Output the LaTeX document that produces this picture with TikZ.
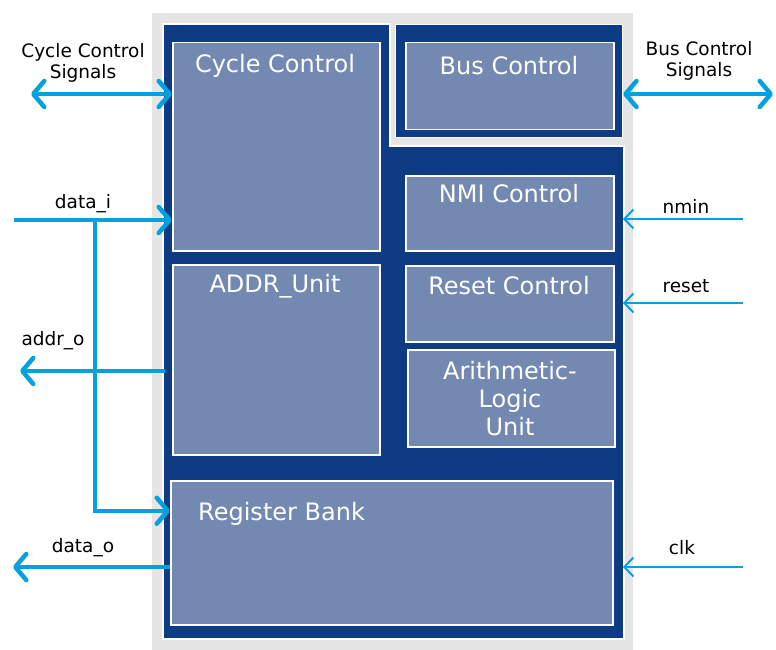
\documentclass[tikz,border=0pt]{standalone}
\usepackage{fontspec}
\setmainfont{DejaVu Sans}
\usetikzlibrary{arrows.meta}

\definecolor{coreblue}{RGB}{14,60,132}
\definecolor{unitblue}{RGB}{116,137,177}
\definecolor{framegray}{RGB}{229,229,229}
\definecolor{sigblue}{RGB}{5,160,222}

\begin{document}
\begin{tikzpicture}[x=1pt, y=-1pt,
    core/.style={fill=coreblue, draw=white, line width=1.2pt},
    unit/.style={rectangle, fill=unitblue, draw=white, line width=1.5pt, anchor=north west, inner sep=0pt},
    unittext/.style={text=white, font=\fontsize{24}{28}\selectfont, align=center, inner sep=0pt},
    sigtext/.style={text=black, font=\fontsize{18.5}{21}\selectfont, align=center, inner sep=0pt},
    bigwire/.style={draw=sigblue, line width=4.5pt, >={Straight Barb[length=11pt,width=26pt,round]}},
    thinwire/.style={draw=sigblue, line width=2pt, >={Straight Barb[length=9pt,width=19pt]}}]

    \useasboundingbox (0,0) rectangle (776,650);

    % frame and core
    \fill[framegray] (152,13) rectangle (633,650);
    \draw[core] (163,24) -- (390,24) -- (390,146) -- (624,146) -- (624,639) -- (163,639) -- cycle;
    \node[core, rectangle, anchor=north west, minimum width=227pt, minimum height=113pt, inner sep=0pt] (busr) at (395,24) {};
    \coordinate (coreE) at (623,0);

    % units
    \node[unit, minimum width=207pt, minimum height=208pt] (cyc) at (172,42) {};
    \node[unit, minimum width=208pt, minimum height=87pt] (bus) at (405,42) {};
    \node[unit, minimum width=208pt, minimum height=75pt] (nmi) at (405,175) {};
    \node[unit, minimum width=208pt, minimum height=76pt] (rst) at (405,265) {};
    \node[unit, minimum width=207pt, minimum height=97pt] (alu) at (407,349) {};
    \node[unit, minimum width=207pt, minimum height=190pt] (addr) at (172,264) {};
    \node[unit, minimum width=442pt, minimum height=144pt] (reg) at (170,480) {};

    \draw(275,66) node[unittext] (cyctxt) {Cycle Control};
    \draw(509,66) node[unittext] (bustxt) {Bus Control};
    \draw(509,194) node[unittext] (nmitxt) {NMI Control};
    \draw(509,286) node[unittext] (rsttxt) {Reset Control};
    \draw(510,399) node[unittext] (alutxt) {Arithmetic-\\Logic\\Unit};
    \draw(275,286) node[unittext] (addrtxt) {ADDR\_Unit};
    \draw(198,514) node[unittext, anchor=west] (regtxt) {Register Bank};

    % signals, left side
    \draw(83,63) node[sigtext] (ccslbl) {Cycle Control\\Signals};
    \draw(83,204) node[sigtext] (dinlbl) {data\_i};
    \draw(53,341) node[sigtext] (aoutlbl) {addr\_o};
    \draw(83,548) node[sigtext] (doutlbl) {data\_o};

    \coordinate (ccs) at (31,94);
    \coordinate (din) at (14,220);
    \coordinate (split) at (95,220);
    \coordinate (aout) at (20,371);
    \coordinate (dout) at (13,567);

    \draw[bigwire, <->] (ccs) -- (ccs -| cyc.west);
    \draw[bigwire, ->] (din) -- (din -| cyc.west);
    \draw[bigwire, ->] (split) |- ([yshift=42pt]reg.west);
    \draw[bigwire, ->] ([xshift=-7pt]addr.west |- aout) -- (aout);
    \draw[bigwire, ->] (reg.west |- dout) -- (dout);

    % signals, right side
    \draw(699,61) node[sigtext] (bcslbl) {Bus Control\\Signals};
    \draw(686,206) node[sigtext] (nminlbl) {nmin};
    \draw(686,286) node[sigtext] (rstlbl) {reset};
    \draw(682,548) node[sigtext] (clklbl) {clk};

    \coordinate (bcs) at (773,94);
    \coordinate (nin) at (743,219);
    \coordinate (rin) at (743,303);
    \coordinate (cin) at (743,567);

    \draw[bigwire, <->] (busr.east |- bcs) -- (bcs);
    \draw[thinwire, ->] (nin) -- (nin -| coreE);
    \draw[thinwire, ->] (rin) -- (rin -| coreE);
    \draw[thinwire, ->] (cin) -- (cin -| coreE);

\end{tikzpicture}
\end{document}
